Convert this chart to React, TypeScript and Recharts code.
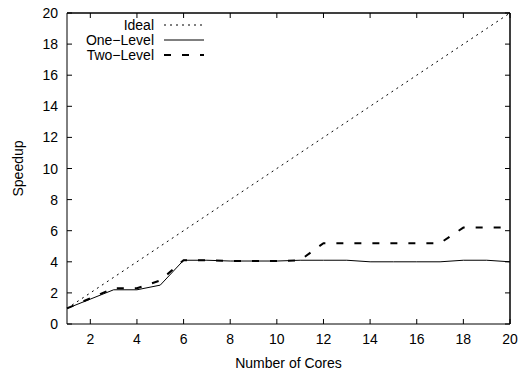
import { LineChart, Line, XAxis, YAxis, ReferenceLine, CartesianGrid } from 'recharts';

const cores = [1, 2, 3, 4, 5, 6, 7, 8, 9, 10, 11, 12, 13, 14, 15, 16, 17, 18, 19, 20];
const ideal = [1, 2, 3, 4, 5, 6, 7, 8, 9, 10, 11, 12, 13, 14, 15, 16, 17, 18, 19, 20];
const oneLevel = [1.0, 1.6, 2.2, 2.2, 2.5, 4.1, 4.1, 4.05, 4.05, 4.05, 4.1, 4.1, 4.1, 4.0, 4.0, 4.0, 4.0, 4.1, 4.1, 4.0];
const twoLevel = [1.0, 1.65, 2.3, 2.3, 2.8, 4.1, 4.1, 4.05, 4.05, 4.05, 4.1, 5.2, 5.2, 5.2, 5.2, 5.2, 5.2, 6.2, 6.2, 6.2];
const xTicks = [2, 4, 6, 8, 10, 12, 14, 16, 18, 20];
const yTicks = [0, 2, 4, 6, 8, 10, 12, 14, 16, 18, 20];

const data = cores.map((c, i) => ({
  cores: c,
  ideal: ideal[i],
  one: oneLevel[i],
  two: twoLevel[i],
}));

const FONT = '"Liberation Sans", Arial, Helvetica, sans-serif';
const TICK = 5;

// plot box (frame only)
const PLOT = { left: 67, top: 13, right: 510, bottom: 324 };

const series = [
  { key: 'ideal', name: 'Ideal', dash: '2 4', width: 1 },
  { key: 'one', name: 'One\u2212Level', dash: undefined, width: 1 },
  { key: 'two', name: 'Two\u2212Level', dash: '7 11', width: 2 },
];

function BottomTick({ x, y, payload }: any) {
  return (
    <g>
      <line x1={x} x2={x} y1={y} y2={y - TICK} stroke="#000" />
      <text x={x} y={y + 20} textAnchor="middle" fontSize={14} fontFamily={FONT} fill="#000">
        {payload.value}
      </text>
    </g>
  );
}

function LeftTick({ x, y, payload }: any) {
  return (
    <g>
      <line x1={x} x2={x + TICK} y1={y} y2={y} stroke="#000" />
      <text x={x - 9} y={y + 5} textAnchor="end" fontSize={14} fontFamily={FONT} fill="#000">
        {payload.value}
      </text>
    </g>
  );
}

// mirrored ticks on the top edge
function TopMark(p: any) {
  const top = Math.min(p.y1, p.y2);
  return <line x1={p.x1} x2={p.x1} y1={top} y2={top + TICK} stroke="#000" />;
}

// mirrored ticks on the right edge
function RightMark(p: any) {
  const right = Math.max(p.x1, p.x2);
  return <line x1={right} x2={right - TICK} y1={p.y1} y2={p.y1} stroke="#000" />;
}

function YLabel({ viewBox }: any) {
  const cx = viewBox.x + 18;
  const cy = viewBox.y + viewBox.height / 2;
  return (
    <text
      x={cx}
      y={cy}
      transform={`rotate(-90 ${cx} ${cy})`}
      textAnchor="middle"
      dominantBaseline="central"
      fontSize={14}
      fontFamily={FONT}
      fill="#000"
    >
      Speedup
    </text>
  );
}

function XLabel({ viewBox }: any) {
  return (
    <text
      x={viewBox.x + viewBox.width / 2}
      y={viewBox.y + 44}
      textAnchor="middle"
      fontSize={14}
      fontFamily={FONT}
      fill="#000"
    >
      Number of Cores
    </text>
  );
}

function KeyBox() {
  return (
    <svg width={215} height={66} style={{ position: 'absolute', left: 0, top: 0 }}>
      {series.map((s, i) => {
        const y = 25 + i * 15;
        return (
          <g key={s.key}>
            <text x={154} y={y + 5} textAnchor="end" fontSize={14} fontFamily={FONT} fill="#000">
              {s.name}
            </text>
            <line x1={164} x2={204} y1={y} y2={y} stroke="#000" strokeWidth={s.width} strokeDasharray={s.dash} />
          </g>
        );
      })}
    </svg>
  );
}

function Frame() {
  return (
    <svg width={520} height={372} style={{ position: 'absolute', left: 0, top: 0, pointerEvents: 'none' }}>
      <line x1={PLOT.left} x2={PLOT.right} y1={PLOT.top} y2={PLOT.top} stroke="#000" />
      <line x1={PLOT.right} x2={PLOT.right} y1={PLOT.top} y2={PLOT.bottom} stroke="#000" />
    </svg>
  );
}

export default function App() {
  return (
    <div style={{ position: 'absolute', left: 0, top: 0, width: 520, height: 372, background: '#fff' }}>
      <LineChart width={520} height={372} data={data} margin={{ top: 13, right: 10, bottom: 0, left: 0 }}>
        <CartesianGrid horizontalValues={[20]} verticalValues={[20]} stroke="#000" strokeDasharray="" />
        <XAxis
          dataKey="cores"
          type="number"
          domain={[1, 20]}
          ticks={xTicks}
          tickSize={0}
          tickMargin={0}
          tickLine={false}
          height={48}
          stroke="#000"
          tick={<BottomTick />}
          label={<XLabel />}
        />
        <YAxis
          type="number"
          domain={[0, 20]}
          ticks={yTicks}
          tickSize={0}
          tickMargin={0}
          tickLine={false}
          width={67}
          stroke="#000"
          tick={<LeftTick />}
          label={<YLabel />}
        />
        {xTicks.map((t) => (
          <ReferenceLine key={`tx${t}`} x={t} ifOverflow="visible" shape={<TopMark />} />
        ))}
        {yTicks.map((t) => (
          <ReferenceLine key={`ty${t}`} y={t} ifOverflow="visible" shape={<RightMark />} />
        ))}
        {series.map((s) => (
          <Line
            key={s.key}
            dataKey={s.key}
            name={s.name}
            type="linear"
            stroke="#000"
            strokeWidth={s.width}
            strokeDasharray={s.dash}
            dot={false}
            isAnimationActive={false}
          />
        ))}
      </LineChart>
      <Frame />
      <KeyBox />
    </div>
  );
}
